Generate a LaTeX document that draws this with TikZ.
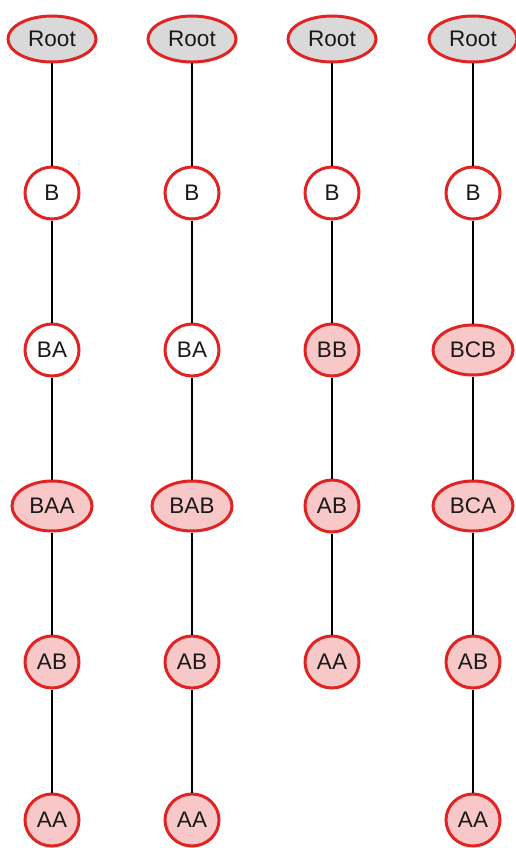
\documentclass[tikz,border=0pt]{standalone}
\usepackage{fontspec}
\setmainfont{Liberation Sans}
\usetikzlibrary{shapes.geometric}
\definecolor{rimred}{HTML}{E02424}
\definecolor{rootgray}{HTML}{D9D9D9}
\definecolor{pinkfill}{HTML}{F8C8C8}
\tikzset{
  every node/.style={font=\fontsize{22.5}{27}\selectfont, text=black!90},
  basenode/.style={ellipse, draw=rimred, line width=3pt, inner sep=0pt},
  rootnode/.style={basenode, fill=rootgray, minimum width=88pt, minimum height=46pt},
  plainnode/.style={basenode, fill=white, minimum width=54pt, minimum height=52pt},
  hotnode/.style={basenode, fill=pinkfill, minimum width=54pt, minimum height=52pt},
  widenode/.style={basenode, fill=pinkfill, minimum width=80pt, minimum height=50pt},
  link/.style={line width=2.6pt, black}
}
\begin{document}
\begin{tikzpicture}[x=1pt, y=-1pt]
\useasboundingbox (0,0) rectangle (515,848);
% column 1
\node[rootnode]  (r1) at (52,39)  {Root};
\node[plainnode] (b1) at (52,193) {B};
\node[plainnode] (ba1) at (52,350) {BA};
\node[widenode]  (baa1) at (52,506) {BAA};
\node[hotnode]   (ab1) at (52,662) {AB};
\node[hotnode]   (aa1) at (52,820) {AA};
% column 2
\node[rootnode]  (r2) at (192,39)  {Root};
\node[plainnode] (b2) at (192,193) {B};
\node[plainnode] (ba2) at (192,350) {BA};
\node[widenode]  (bab2) at (192,506) {BAB};
\node[hotnode]   (ab2) at (192,662) {AB};
\node[hotnode]   (aa2) at (192,820) {AA};
% column 3
\node[rootnode]  (r3) at (332,39)  {Root};
\node[plainnode] (b3) at (332,193) {B};
\node[hotnode]   (bb3) at (332,350) {BB};
\node[hotnode]   (ab3) at (332,506) {AB};
\node[hotnode]   (aa3) at (332,662) {AA};
% column 4
\node[rootnode]  (r4) at (473,39)  {Root};
\node[plainnode] (b4) at (473,193) {B};
\node[widenode]  (bcb4) at (473,350) {BCB};
\node[widenode]  (bca4) at (473,506) {BCA};
\node[hotnode]   (ab4) at (473,662) {AB};
\node[hotnode]   (aa4) at (473,820) {AA};
% chains
\draw[link] (r1) -- (b1) -- (ba1) -- (baa1) -- (ab1) -- (aa1);
\draw[link] (r2) -- (b2) -- (ba2) -- (bab2) -- (ab2) -- (aa2);
\draw[link] (r3) -- (b3) -- (bb3) -- (ab3) -- (aa3);
\draw[link] (r4) -- (b4) -- (bcb4) -- (bca4) -- (ab4) -- (aa4);
\end{tikzpicture}
\end{document}
